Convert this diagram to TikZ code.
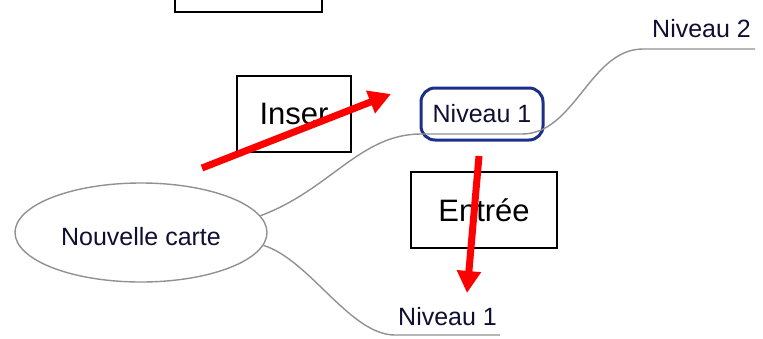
\documentclass[tikz,border=0pt]{standalone}
\usepackage{fontspec}
\setmainfont{Liberation Sans}
\usetikzlibrary{shapes, arrows.meta}
\definecolor{mapgray}{RGB}{145,145,145}
\definecolor{mapblue}{RGB}{28,48,135}
\definecolor{mapink}{RGB}{15,15,50}

\begin{document}
\begin{tikzpicture}[x=1pt, y=-1pt,
    keybox/.style={draw, line width=1.2pt, minimum width=114pt, minimum height=76pt, inner sep=0pt, font=\fontsize{31}{36}\selectfont},
    maptext/.style={text=mapink, inner sep=0pt, font=\fontsize{25}{30}\selectfont},
    branch/.style={draw=mapgray, line width=1.4pt},
    redarrow/.style={draw=red, line width=7pt, -{Triangle[width=23pt,length=22pt]}}]
    \useasboundingbox (0,0) rectangle (763,338);

    % Draw the key boxes behind everything
    \node[keybox, minimum width=147pt] (topbox) at (248.5,-26) {};
    \node[keybox] (inser) at (294,114) {Inser};
    \node[keybox, minimum width=146pt] (entree) at (484,210) {Entrée};

    % Draw the central topic
    \node[maptext, draw=mapgray, line width=1.4pt, ellipse, text height=25pt, text depth=0pt, minimum width=252pt, minimum height=99pt] (root) at (141,232.5) {Nouvelle carte};

    % Draw the topics, the selected one framed
    \node[maptext, draw=mapblue, line width=3pt, rounded corners=14pt, minimum width=122pt, minimum height=52pt] (nivA) at (482,114) {Niveau 1};
    \node[maptext, anchor=base west] (nivB) at (652,37) {Niveau 2};
    \node[maptext, anchor=base west] (nivC) at (398,325) {Niveau 1};

    % Draw the branches with their underlines
    \coordinate (nivAl) at (421,134);
    \coordinate (nivAr) at (522,134);
    \coordinate (nivBl) at (643,49);
    \coordinate (nivBr) at (755,49);
    \coordinate (nivCl) at (395,335);
    \coordinate (nivCr) at (500,335);
    \draw[branch] (root.8) .. controls (330,190) and (360,134) .. (nivAl) -- (nivAr) .. controls (575,134) and (590,49) .. (nivBl) -- (nivBr);
    \draw[branch] (root.-6) .. controls (310,260) and (350,335) .. (nivCl) -- (nivCr);

    % Draw the red arrows on top
    \coordinate (insFrom) at (202,168);
    \coordinate (insTo) at (391,94);
    \coordinate (entFrom) at (479,156);
    \coordinate (entTo) at (467,293);
    \draw[redarrow] (insFrom) -- (insTo);
    \draw[redarrow] (entFrom) -- (entTo);
\end{tikzpicture}
\end{document}
